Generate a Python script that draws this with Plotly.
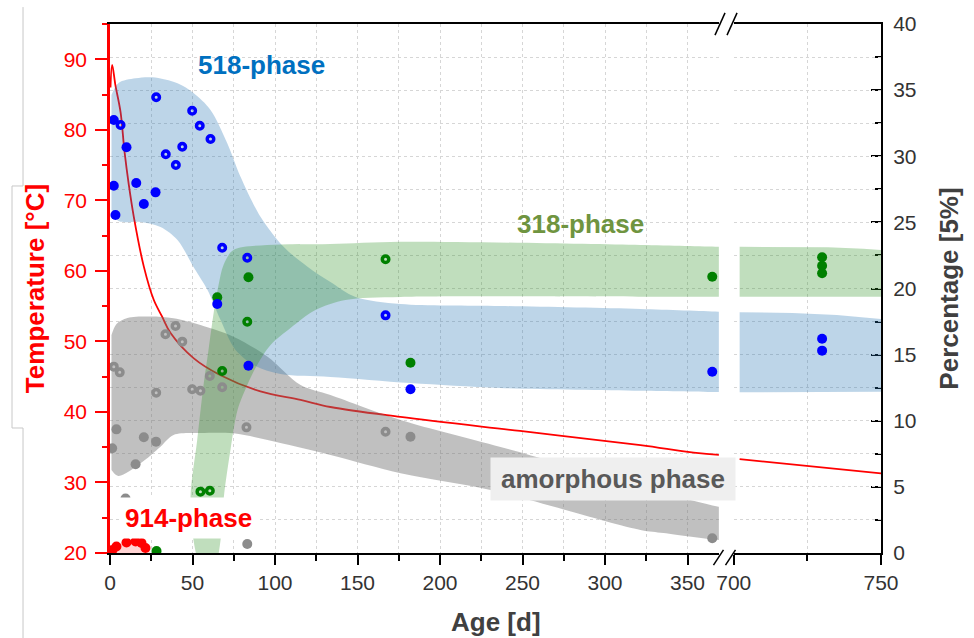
import plotly.graph_objects as go

FONT = "Arial, Liberation Sans, sans-serif"

# ---------------- temperature profile (left axis, °C) ----------------
temp_day = [0.3, 1.3, 3.3, 6.4, 8.8, 11.4, 14.4, 20.5, 26.5, 31.6, 36.7, 50.8, 67,
            91.2, 115.5, 133.6, 176, 248.5, 321.5, 369, 702, 750]
temp_val = [86.0, 89.2, 86.3, 82.5, 76.9, 72.2, 67.7, 60.6, 55.9, 53.5, 51.2, 47.6, 45.2,
            42.9, 41.7, 40.7, 39.3, 37.3, 35.3, 33.9, 33.3, 31.3]

# ---------------- phase contents (right axis, %) ----------------
p518_open_day = [6.4, 28.0, 49.8, 54.4, 60.9, 43.8, 33.8, 39.9, 68.0, 83.2, 167.0]
p518_open_pct = [32.36, 34.46, 33.44, 32.31, 31.30, 30.72, 30.15, 29.34, 23.08, 22.33, 17.97]
p518_fill_day = [2.3, 10.0, 2.3, 15.9, 20.5, 27.6, 3.3, 65.0, 83.9, 182.1, 365, 730, 730]
p518_fill_pct = [32.74, 30.68, 27.77, 27.98, 26.39, 27.27, 25.56, 18.83, 14.16, 12.38, 13.71, 16.2, 15.3]

p318_open_day = [68.0, 83.2, 54.8, 60.5, 167.0]
p318_open_pct = [13.76, 17.49, 4.64, 4.71, 22.21]
p318_fill_day = [65.0, 83.9, 28.2, 182.1, 365, 730, 730, 730]
p318_fill_pct = [19.33, 20.85, 0.15, 14.39, 20.89, 22.36, 21.72, 21.15]

amor_open_day = [39.7, 33.6, 43.8, 2.3, 5.9, 28.0, 49.8, 54.8, 60.5, 68.0, 82.7, 167.0]
amor_open_pct = [17.16, 16.54, 15.98, 14.09, 13.66, 12.12, 12.38, 12.27, 13.38, 12.53, 9.50, 9.17]
amor_fill_day = [3.9, 20.5, 27.9, 1.3, 15.5, 9.4, 83.2, 182.1, 365]
amor_fill_pct = [9.35, 8.75, 8.42, 7.92, 6.71, 4.12, 0.68, 8.79, 1.11]

p914_fill_day = [1.5, 3.9, 10.0, 15.5, 19.1, 21.5]
p914_fill_pct = [0.23, 0.49, 0.79, 0.87, 0.76, 0.38]

# ---------------- trend envelopes (outline day / %) ----------------
band518_day = [0.9, 5.15, 15.45, 25.76, 40.9, 50.6, 60.9, 71.0, 79.1, 91.2, 105.2, 119.7, 133.6,
               148.8, 176.1, 236.7, 321.5, 368.8, 380,
               380, 368.8, 321.5, 236.7, 182.1, 133.6, 103.3, 88.2, 76.1, 67.0, 59.1, 50.6,
               40.9, 30.6, 18.5, 5.15, 0.9]
band518_pct = [34.63, 35.54, 35.89, 35.97, 35.52, 34.78, 33.50, 31.0, 28.45, 25.43, 23.16, 21.65, 20.49,
               19.36, 18.83, 18.68, 18.45, 18.25, 18.2,
               12.15, 12.17, 12.27, 12.48, 12.85, 13.31, 13.53, 14.14, 15.35, 17.62, 19.89, 21.63,
               23.67, 24.65, 25.03, 25.1, 25.94]
band518_late_day = [702, 720, 735, 744, 750, 750, 702]
band518_late_pct = [18.2, 18.15, 18.0, 17.85, 17.7, 12.2, 12.15]

band318_day = [53.0, 50.6, 48.8, 52.85, 56.85, 59.7, 62.9, 65.8, 68.8, 74.8, 95.3, 133.6, 176.1,
               321.5, 368.8, 380,
               380, 368.8, 321.5, 176.1, 142.7, 124.5, 109.4, 97.3, 89.2, 83.2, 77.3, 73.0,
               69.0, 67.0, 65.2]
band318_pct = [-0.53, 0.98, 4.23, 8.54, 12.85, 15.35, 18.22, 20.26, 21.78, 22.91, 23.29, 23.37, 23.54,
               23.29, 23.16, 23.16,
               19.38, 19.38, 19.38, 19.36, 19.13, 18.37, 17.01, 15.73, 14.22, 12.7, 10.81, 7.79,
               4.23, 0.98, -0.53]
band318_late_day = [702, 732, 744, 750, 750, 702]
band318_late_pct = [23.16, 23.11, 23.0, 22.91, 19.38, 19.38]

band_amor_day = [0.9, 3.94, 10.6, 24.5, 38.5, 54.8, 74.8, 95.5, 115.5, 133.6, 176.1, 236.7, 297.3,
                 351.8, 368.8, 380,
                 380, 368.8, 335.5, 321.5, 230.6, 176.1, 133.6, 95.5, 74.8, 54.8, 38.5, 30.6,
                 18.5, 5.15, 0.9]
band_amor_pct = [16.48, 17.32, 17.77, 17.88, 17.75, 17.24, 16.36, 14.84, 12.7, 11.95, 10.06, 8.02, 5.9,
                 4.01, 3.5, 3.3,
                 0.9, 0.98, 1.51, 1.74, 4.76, 6.03, 7.41, 8.54, 9.05, 9.07, 8.92, 8.04,
                 6.78, 5.82, 6.28]

band914_day = [0.9, 1.5, 5.15, 12.4, 19.7, 23.3, 24.5]
band914_pct = [-0.3, 0.38, 0.68, 0.76, 0.68, 0.38, -0.3]

# axis ranges
x_left_range = [0, 369]
x_right_range = [700, 750]
temp_range = [20, 95]
pct_range = [0, 40]

BLUE, GREEN, GRAY, RED = "#0000ff", "#008000", "#8c8c8c", "#ff0000"
GRID = "#d6d6d6"
BREAK = 500  # days; later points go to the right-hand axis segment


def split(days, vals):
    left = [(d, v) for d, v in zip(days, vals) if d < BREAK]
    right = [(d, v) for d, v in zip(days, vals) if d >= BREAK]
    unz = lambda pts: ([p[0] for p in pts], [p[1] for p in pts])
    return unz(left), unz(right)


fig = go.Figure()


def band(days, vals, color, xa, shape="spline"):
    fig.add_trace(go.Scatter(x=days, y=vals, xaxis=xa, yaxis="y2", mode="lines",
                             line=dict(width=0, shape=shape, smoothing=0.9),
                             fill="toself", fillcolor=color, hoverinfo="skip",
                             showlegend=False))


FILL_AMOR = "rgba(115,115,115,0.45)"
FILL_518 = "rgba(35,115,178,0.30)"
FILL_318 = "rgba(45,145,38,0.30)"
band(band_amor_day, band_amor_pct, FILL_AMOR, "x")
band(band518_day, band518_pct, FILL_518, "x")
band(band518_late_day, band518_late_pct, FILL_518, "x2", "linear")
band(band318_day, band318_pct, FILL_318, "x")
band(band318_late_day, band318_late_pct, FILL_318, "x2", "linear")
band(band914_day, band914_pct, "rgba(255,110,110,0.3)", "x")

# temperature curve on both axis segments
(tl_d, tl_v), (tr_d, tr_v) = split(temp_day, temp_val)
tl_d.append(tr_d[0]); tl_v.append(tr_v[0])
fig.add_trace(go.Scatter(x=tl_d, y=tl_v, xaxis="x", yaxis="y", mode="lines",
                         line=dict(color=RED, width=1.8, shape="spline"), showlegend=False))
fig.add_trace(go.Scatter(x=tr_d, y=tr_v, xaxis="x2", yaxis="y", mode="lines",
                         line=dict(color=RED, width=1.8), showlegend=False))


def points(days, vals, color, filled):
    if filled:
        marker = dict(symbol="circle", size=10, color=color, line=dict(width=0))
    else:
        marker = dict(symbol="circle-open", size=6.5, color=color, line=dict(width=3.5, color=color))
    for (d, v), xa in zip(split(days, vals), ("x", "x2")):
        if d:
            fig.add_trace(go.Scatter(x=d, y=v, xaxis=xa, yaxis="y2", mode="markers",
                                     marker=marker, showlegend=False))


points(amor_open_day, amor_open_pct, GRAY, False)
points(amor_fill_day, amor_fill_pct, GRAY, True)
points(p318_open_day, p318_open_pct, GREEN, False)
points(p318_fill_day, p318_fill_pct, GREEN, True)
points(p518_open_day, p518_open_pct, BLUE, False)
points(p518_fill_day, p518_fill_pct, BLUE, True)
points(p914_fill_day, p914_fill_pct, RED, True)

tickfont = dict(family=FONT, size=21, color="#333333")
xcommon = dict(showline=True, linecolor="black", linewidth=2, mirror=True, zeroline=False,
               ticks="outside", ticklen=10, tickwidth=1.5, tickcolor="black",
               showgrid=True, gridcolor=GRID, griddash="dot", gridwidth=1,
               tickfont=tickfont, ticklabelstandoff=0, anchor="y",
               minor=dict(dtick=25, ticks="outside", ticklen=6, tickcolor="black", tickwidth=1.5,
                          showgrid=True, gridcolor=GRID, griddash="dot", gridwidth=1))

fig.update_layout(
    width=974, height=638,
    margin=dict(l=110, r=93, t=24, b=85),
    paper_bgcolor="white", plot_bgcolor="white",
    font=dict(family=FONT),
    showlegend=False,
    xaxis=dict(domain=[0, 0.7897], range=x_left_range, tick0=0, dtick=50, **xcommon),
    xaxis2=dict(domain=[0.809, 1], range=x_right_range, tick0=700, dtick=50, **xcommon),
    yaxis=dict(domain=[0, 1], range=temp_range, anchor="x", side="left",
               showline=True, linecolor=RED, linewidth=2.5, zeroline=False, showgrid=False,
               ticks="outside", ticklen=12, tickwidth=1.5, tickcolor=RED,
               tick0=20, dtick=10, tickfont=dict(family=FONT, size=21, color=RED),
               ticklabelstandoff=4,
               minor=dict(dtick=5, ticks="outside", ticklen=5, tickcolor=RED, tickwidth=1.5),
               title=dict(text="<b>Temperature [°C]</b>", standoff=12,
                          font=dict(family=FONT, size=26, color=RED))),
    yaxis2=dict(range=pct_range, overlaying="y", anchor="x2", side="right",
                showline=True, linecolor="black", linewidth=2, zeroline=False,
                ticks="inside", ticklen=10, tickwidth=1.5, tickcolor="black",
                tick0=0, dtick=5, tickfont=tickfont, ticklabelstandoff=6,
                showgrid=True, gridcolor=GRID, griddash="dot", gridwidth=1,
                minor=dict(dtick=2.5, ticks="inside", ticklen=6, tickcolor="black", tickwidth=1.5,
                           showgrid=True, gridcolor=GRID, griddash="dot", gridwidth=1),
                title=dict(text="<b>Percentage [5%]</b>", standoff=24,
                           font=dict(family=FONT, size=26, color="#404040"))),
)

# axis-break marks on the top and bottom frame lines
for x0 in (0.7847, 0.8003):
    fig.add_shape(type="line", xref="paper", yref="paper", x0=x0, x1=x0 + 0.013,
                  y0=0.979, y1=1.021, line=dict(color="black", width=1.5))
    fig.add_shape(type="line", xref="paper", yref="paper", x0=x0 - 0.002, x1=x0 + 0.011,
                  y0=-0.023, y1=0.006, line=dict(color="black", width=1.5))

# thin frame outline at the left edge
fig.add_shape(type="path", xref="paper", yref="paper",
              path="M -0.1128 1.032 L -0.1128 0.6938 L -0.1271 0.6938 L -0.1271 0.2363 "
                   "L -0.1128 0.2363 L -0.1128 -0.161",
              line=dict(color="#c8c8c8", width=1))

lab = dict(family=FONT, size=26)
fig.add_annotation(x=92, y=36.9, xref="x", yref="y2", text="<b>518-phase</b>", showarrow=False,
                   font=dict(color="#0070c0", **lab))
fig.add_annotation(x=285, y=24.9, xref="x", yref="y2", text="<b>318-phase</b>", showarrow=False,
                   font=dict(color="#6f9440", **lab))
fig.add_annotation(x=47.3, y=2.65, xref="x", yref="y2", text="<b>914-phase</b>", showarrow=False,
                   font=dict(color=RED, **lab), bgcolor="white", borderpad=5)
fig.add_annotation(x=305, y=5.6, xref="x", yref="y2", text="<b>amorphous phase</b>", showarrow=False,
                   font=dict(color="#595959", **lab), bgcolor="#efefef", width=236, height=34,
                   borderpad=4)
fig.add_annotation(x=0.5, y=-0.13, xref="paper", yref="paper", yanchor="middle",
                   text="<b>Age [d]</b>", showarrow=False, font=dict(color="#404040", **lab))

fig.write_html("out.html")
